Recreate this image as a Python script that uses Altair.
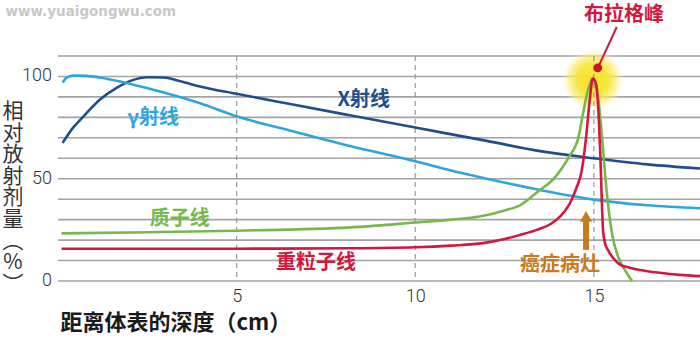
import altair as alt
import pandas as pd

# ---- data ----
xray_depth = [0.13, 0.4, 0.69, 1.16, 1.64, 2.09, 2.5, 2.95, 3.4, 4.0, 5.0, 6.5, 8.17, 10.0, 12.0, 13.5, 15.0, 16.5, 17.97]
xray_dose = [67.5, 74.5, 80, 88.5, 94.4, 98.2, 99.6, 99.5, 97.8, 95, 91.5, 86.5, 81, 75, 68.5, 63.5, 60, 57, 55]

gamma_depth = [0.13, 0.25, 0.45, 0.8, 1.16, 2.56, 3.96, 5.0, 6.5, 8.17, 10.0, 11.0, 12.0, 13.5, 15.0, 16.5, 17.97]
gamma_dose = [97, 99.5, 100.5, 100.3, 99.5, 94, 87, 80.5, 73.5, 66, 58.5, 54, 50, 44.5, 39.8, 37, 35.6]

proton_depth = [0.1, 2.5, 5.0, 8.17, 10.0, 11.0, 11.8, 12.5, 12.93, 13.49, 13.85, 14.1, 14.35, 14.55, 14.72,
                14.86, 14.97, 15.05, 15.15, 15.22, 15.3, 15.38, 15.52, 15.7, 15.88, 16.07]
proton_dose = [23.3, 23.8, 24.6, 26.2, 28.6, 30, 31.5, 34.5, 37, 44.5, 49.5, 55, 62, 69, 84,
               95, 99, 97, 85, 72, 55, 40, 22, 11, 5, 0]

heavy_depth = [0.1, 5.0, 8.17, 10.0, 11.0, 11.9, 12.5, 12.93, 13.4, 13.8, 14.05, 14.33, 14.5, 14.66, 14.78,
               14.88, 14.97, 15.06, 15.13, 15.18, 15.22, 15.26, 15.32, 15.4, 15.55, 15.73, 16.0, 16.29, 16.85, 17.4, 17.97]
heavy_dose = [15.8, 15.8, 16, 16.5, 17.3, 18.5, 20.5, 22.5, 25, 28, 31.5, 38, 45, 54, 70,
              88, 99, 96, 82, 62, 40, 24, 18, 15, 11, 8, 6.5, 5.4, 4, 3, 2.4]

series_names = ["X射线", "γ射线", "质子线", "重粒子线"]
series_colors = ["#1f4e8c", "#2ea6dd", "#77b84c", "#d4173f"]

x_ticks = [5, 10, 15]
y_ticks = [0, 50, 100]
y_tick_labels = ["0", "50", "100"]
y_grid = [0, 10, 20, 30, 40, 50, 60, 70, 80, 90, 100, 110]
y_title = ["相", "对", "放", "射", "剂", "量", "︵", "%", "︶"]
x_title = "距离体表的深度（cm）"

# annotation anchors (in data units: depth cm, dose %)
label_texts = ["X射线", "γ射线", "质子线", "重粒子线", "癌症病灶", "布拉格峰"]
label_depth = [8.56, 2.66, 3.41, 7.22, 14.05, 15.84]
label_dose = [88.5, 79.7, 30.3, 8.8, 7.8, 130.0]
label_colors = ["#1f4e8c", "#2ea6dd", "#77b84c", "#d4173f", "#c77a20", "#d4173f"]

ylabel_depth = -0.17
ytitle_depth, ytitle_dose = -1.26, 82.6

peak_depth, peak_dose = 14.97, 98.3
dot_depth, dot_dose = 15.11, 104.2
leader_end = (15.64, 124.2)
arrow_depth, arrow_base, arrow_top = 14.78, 15.2, 30.0
arrow_head = 31.6

frames = []
for name, xs, ys in [("X射线", xray_depth, xray_dose), ("γ射线", gamma_depth, gamma_dose),
                     ("质子线", proton_depth, proton_dose), ("重粒子线", heavy_depth, heavy_dose)]:
    frames.append(pd.DataFrame({"depth": xs, "dose": ys, "series": name}))
lines_df = pd.concat(frames, ignore_index=True)

xscale = alt.Scale(domain=[0, 17.97], nice=False, zero=False)
yscale = alt.Scale(domain=[0, 110], nice=False, zero=False)

xaxis = alt.Axis(
    values=x_ticks, grid=False, domain=False, ticks=False,
    labelFont="Roboto", labelFontWeight=300, labelFontSize=18, labelColor="#333333", labelPadding=6,
    title=x_title, titleFont="Noto Sans CJK SC", titleFontSize=22, titleFontWeight="bold",
    titleColor="#1a1a1a", titleAnchor="start", titleAlign="left", titleBaseline="middle",
    titleX=2, titleY=41)

X = alt.X("depth:Q", scale=xscale, axis=xaxis)
Y = alt.Y("dose:Q", scale=yscale, axis=None)

hgrid = alt.Chart(pd.DataFrame({"gv": y_grid})).mark_rule(
    color="#a3a3a3", strokeWidth=1.6
).encode(y=alt.Y("gv:Q", scale=yscale, axis=None), x=alt.value(0), x2=alt.value(642))

glow = alt.Chart(pd.DataFrame({"depth": [peak_depth], "dose": [peak_dose]})).mark_circle(
    size=4000, opacity=0.95,
    fill={"gradient": "radial", "x1": 0.5, "y1": 0.5, "r1": 0, "x2": 0.5, "y2": 0.5, "r2": 0.5,
          "stops": [{"offset": 0, "color": "#f6e31c"},
                    {"offset": 0.5, "color": "#f7e638"},
                    {"offset": 0.78, "color": "rgba(249,237,110,0.6)"},
                    {"offset": 1, "color": "rgba(255,255,255,0)"}]}
).encode(x=X, y=Y)

vrules = alt.Chart(pd.DataFrame({"depth": x_ticks})).mark_rule(
    color="#999999", strokeDash=[5, 4], strokeWidth=1.2
).encode(x=X, y=alt.value(0), y2=alt.value(225))

lines = alt.Chart(lines_df).mark_line(strokeWidth=2.6, interpolate="monotone").encode(
    x=X, y=Y,
    color=alt.Color("series:N", scale=alt.Scale(domain=series_names, range=series_colors), legend=None),
    detail="series:N")

layers = [hgrid, glow, vrules, lines]

# y tick labels and vertical y title as text
layers.append(alt.Chart(pd.DataFrame({"depth": [ylabel_depth] * len(y_ticks), "dose": y_ticks, "t": y_tick_labels})).mark_text(
    font="Roboto", fontWeight=300, fontSize=18, color="#333333", align="right", baseline="middle"
).encode(x=X, y=Y, text="t:N"))
layers.append(alt.Chart(pd.DataFrame({"depth": [ytitle_depth], "dose": [ytitle_dose]})).mark_text(
    font="Noto Sans CJK SC", fontSize=21, color="#333333", align="center", baseline="middle", lineHeight=21.6
).encode(x=X, y=Y, text=alt.value(y_title)))

for t, xd, yd, c in zip(label_texts, label_depth, label_dose, label_colors):
    layers.append(alt.Chart(pd.DataFrame({"depth": [xd], "dose": [yd], "t": [t]})).mark_text(
        font="Noto Sans CJK SC", fontWeight="bold", fontSize=20, color=c,
        align="center", baseline="middle").encode(x=X, y=Y, text="t:N"))

# arrow
layers.append(alt.Chart(pd.DataFrame({"depth": [arrow_depth], "dose": [arrow_base], "dose2": [arrow_top]})).mark_rule(
    color="#c77a20", strokeWidth=6).encode(x=X, y=Y, y2="dose2:Q"))
layers.append(alt.Chart(pd.DataFrame({"depth": [arrow_depth], "dose": [arrow_head]})).mark_point(
    shape="triangle-up", size=150, filled=True, color="#c77a20", opacity=1).encode(x=X, y=Y))

# leader line + dot for Bragg peak
layers.append(alt.Chart(pd.DataFrame({"depth": [dot_depth, leader_end[0]], "dose": [dot_dose, leader_end[1]]})).mark_line(
    color="#d4173f", strokeWidth=2).encode(x=X, y=Y))
layers.append(alt.Chart(pd.DataFrame({"depth": [dot_depth], "dose": [dot_dose]})).mark_circle(
    size=75, color="#d0112b", opacity=1).encode(x=X, y=Y))

# watermark
layers.append(alt.Chart(pd.DataFrame({"depth": [0.92], "dose": [131.5], "t": ["www.yuaigongwu.com"]})).mark_text(
    font="DejaVu Sans", fontWeight="bold", fontSize=13.5, color="#c8c8c8",
    align="center", baseline="middle").encode(x=X, y=Y, text="t:N"))

chart = alt.layer(*layers).properties(
    width=642, height=225,
    autosize=alt.AutoSizeParams(type="none"),
    padding={"left": 58, "top": 56, "right": 0, "bottom": 59},
    background="white"
).configure_view(stroke=None)

chart.save("out.html", embed_options={"renderer": "svg", "actions": False})
